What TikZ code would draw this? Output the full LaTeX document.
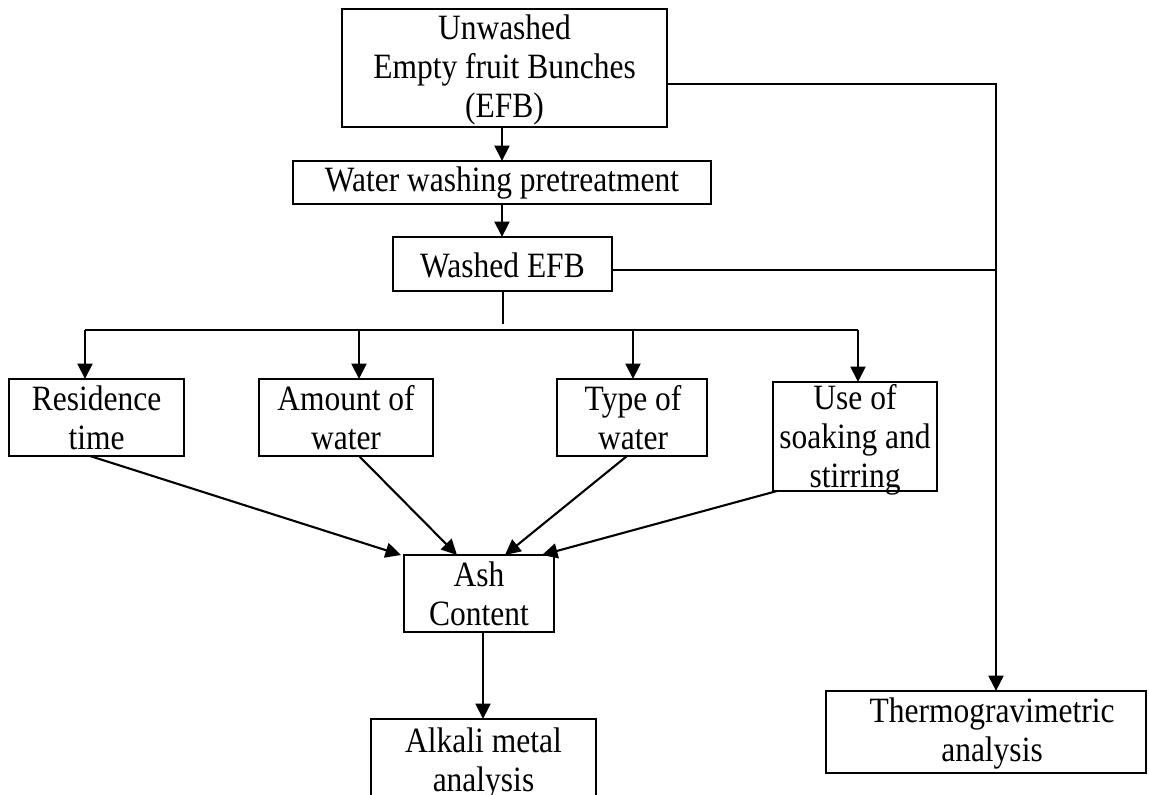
\documentclass[tikz,border=0pt]{standalone}
\usepackage{fontspec}
\setmainfont{Liberation Serif}
\usetikzlibrary{arrows.meta,calc}
\begin{document}
\begin{tikzpicture}[x=1pt,y=-1pt,
  box/.style={draw, line width=2.1pt, inner sep=0pt, outer sep=0pt},
  txt/.style={inner sep=0pt, align=center, font=\fontsize{31.5}{34.5}\selectfont, transform shape, yscale=1.13},
  conn/.style={line width=2.1pt},
  arr/.style={line width=2.1pt, -{Triangle[length=15.5pt,width=15pt]}}]
\useasboundingbox (0,0) rectangle (1149,795);
\clip (0,0) rectangle (1149,795);
% boxes
\node[box, minimum width=325pt, minimum height=118pt] (top) at (504.5,68) {};
\node[box, minimum width=418pt, minimum height=43pt] (water) at (502,182.5) {};
\node[box, minimum width=219pt, minimum height=54pt] (washed) at (502.5,264) {};
\node[box, minimum width=175pt, minimum height=77pt] (res) at (96.5,417.5) {};
\node[box, minimum width=174pt, minimum height=77pt] (amt) at (346,417.5) {};
\node[box, minimum width=150pt, minimum height=77pt] (type) at (632,417.5) {};
\node[box, minimum width=164pt, minimum height=109pt] (use) at (855,436.5) {};
\node[box, minimum width=150pt, minimum height=77pt] (ash) at (479,593.5) {};
\node[box, minimum width=225pt, minimum height=81pt] (alk) at (483.5,759.5) {};
\node[box, minimum width=320pt, minimum height=82pt] (thermo) at (986,732) {};
% texts
\node[txt] (toptxt) at (504.5,70) {Unwashed\\Empty fruit Bunches\\(EFB)};
\node[txt] (watertxt) at (502,183) {Water washing pretreatment};
\node[txt] (washedtxt) at (502.5,265) {Washed EFB};
\node[txt] (restxt) at (96.5,418) {Residence\\time};
\node[txt] (amttxt) at (346,418) {Amount of\\water};
\node[txt] (typetxt) at (633,418) {Type of\\water};
\node[txt] (usetxt) at (855,440) {Use of\\soaking and\\stirring};
\node[txt] (ashtxt) at (479,594) {Ash\\Content};
\node[txt, anchor=north] (alktxt) at (483.5,728) {Alkali metal\\analysis};
\node[txt] (thermotxt) at (992,733) {Thermogravimetric\\analysis};
% coordinates
\coordinate (stub) at (503,324);
\coordinate (b1) at (85,330);
\coordinate (b2) at (359,330);
\coordinate (b3) at (633,330);
\coordinate (b4) at (858,330);
\coordinate (j1) at (996,84);
\coordinate (j2) at (996,270);
% connectors
\draw[arr] (water.north |- top.south) -- (water.north);
\draw[arr] (water.south) -- (water.south |- washed.north);
\draw[conn] (washed.south -| stub) -- (stub);
\draw[conn] (b1) -- (b4);
\draw[arr] (b1) -- (b1 |- res.north);
\draw[arr] (b2) -- (b2 |- amt.north);
\draw[arr] (b3) -- (b3 |- type.north);
\draw[arr] (b4) -- (b4 |- use.north);
\draw[arr] (top.east |- j1) -- (j1) -- (j1 |- thermo.north);
\draw[conn] (washed.east |- j2) -- (j2);
\draw[arr] ([xshift=-6.5pt]res.south) -- ([xshift=-3pt]ash.north west);
\draw[arr] ([xshift=13pt]amt.south) -- ([xshift=-22pt]ash.north);
\draw[arr] ([xshift=-5pt]type.south) -- ([xshift=26pt]ash.north);
\draw[arr] ([xshift=4pt]use.south west) -- ([xshift=63pt]ash.north);
\draw[arr] ([xshift=4pt]ash.south) -- ([xshift=4pt]ash.south |- alk.north);
\end{tikzpicture}
\end{document}
